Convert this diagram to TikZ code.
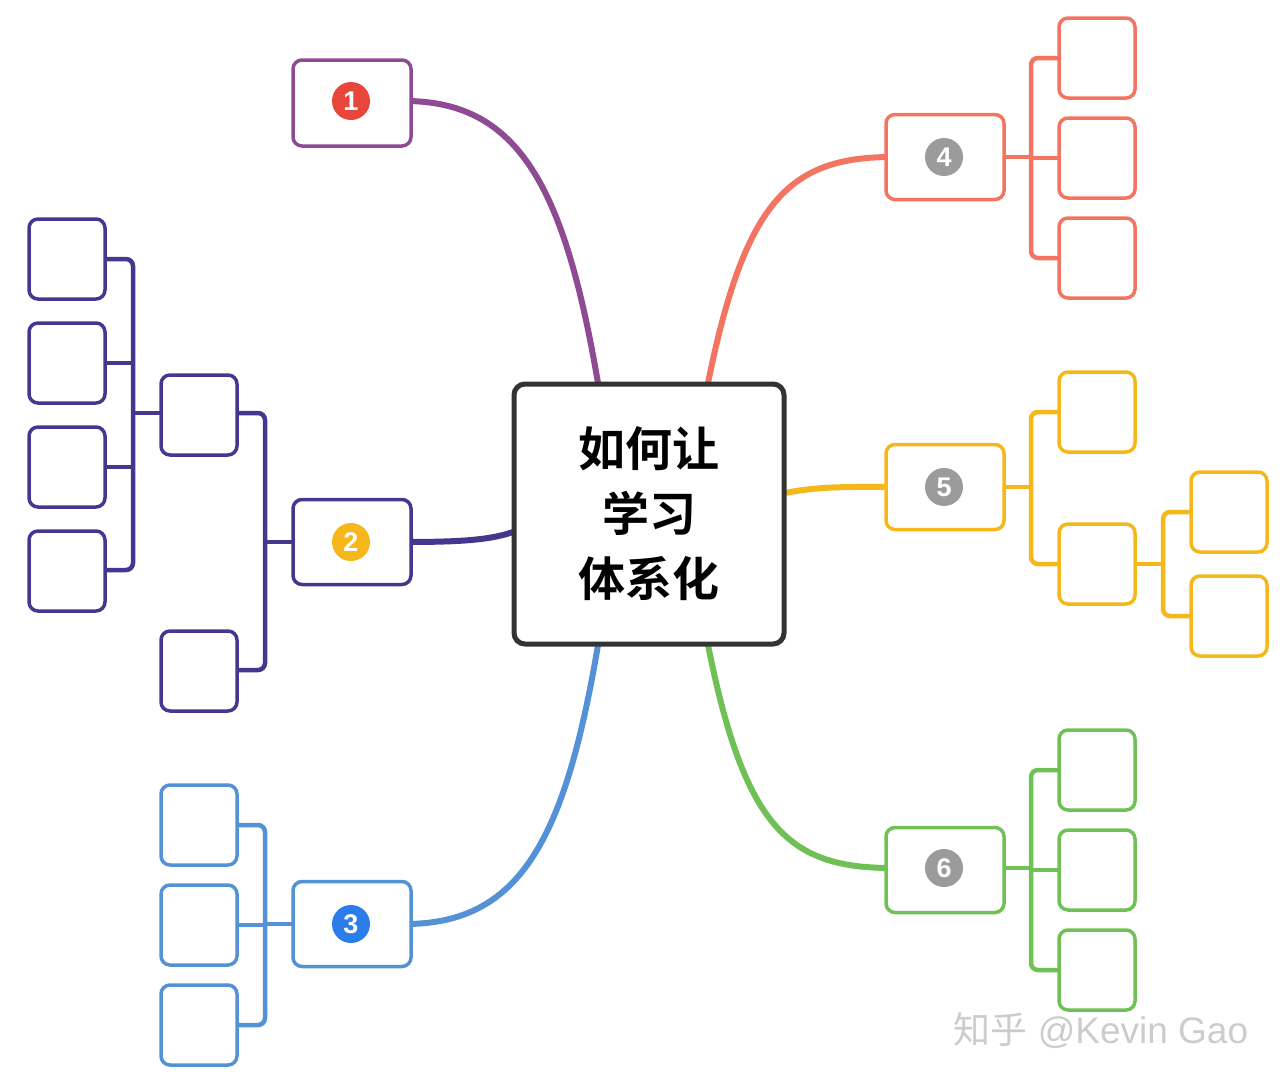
\documentclass[tikz,border=0pt]{standalone}
\usepackage{fontspec}
\setmainfont{Liberation Sans}
\newfontfamily\cjk{Noto Sans CJK SC}
\newfontfamily\cjkb{Noto Sans CJK SC Bold}
\definecolor{cP}{HTML}{8E4A92}
\definecolor{cD}{HTML}{46368F}
\definecolor{cB}{HTML}{5591D6}
\definecolor{cO}{HTML}{F47462}
\definecolor{cY}{HTML}{F5B71A}
\definecolor{cG}{HTML}{70C155}
\definecolor{cC}{HTML}{333333}
\definecolor{k1c}{HTML}{E8463A}
\definecolor{k3c}{HTML}{2B7DE9}
\definecolor{kg}{HTML}{9B9B9B}
\begin{document}
\begin{tikzpicture}[x=1pt,y=-1pt,
 box/.style={draw,rounded corners=9pt,line width=3.5pt,minimum width=76pt,minimum height=80pt,inner sep=0pt,fill=white},
 num/.style={circle,fill=#1,text=white,inner sep=0pt,minimum size=38pt,font=\bfseries\fontsize{27}{27}\selectfont},
 ln/.style={line width=6pt,#1},
 br/.style={line width=4.5pt,rounded corners=7pt,#1}]
\useasboundingbox (0,0) rectangle (1287,1082);
\coordinate (c1) at (598,383); \coordinate (c2) at (513,532);
\coordinate (c3) at (598,645); \coordinate (c4) at (708,383);
\coordinate (c5) at (785,493); \coordinate (c6) at (708,645);
\draw[ln=cP] (c1) .. controls (565,190) and (520,101) .. (405,101);
\draw[ln=cD] (c2) .. controls (490,540) and (460,542) .. (405,542);
\draw[ln=cB] (c3) .. controls (565,840) and (520,924) .. (405,924);
\draw[ln=cO] (c4) .. controls (745,200) and (790,157) .. (892,157);
\draw[ln=cY] (c5) .. controls (820,486) and (850,487) .. (892,487);
\draw[ln=cG] (c6) .. controls (745,830) and (790,868) .. (892,868);
\draw[br=cD] (411,542) -- (265,542); \draw[br=cD] (238,413) -- (265,413) -- (265,670) -- (238,670);
\draw[br=cD] (160,413) -- (133,413);
\draw[br=cD] (106,259) -- (133,259) -- (133,570) -- (106,570);
\draw[br=cD] (106,363) -- (133,363); \draw[br=cD] (106,467) -- (133,467);
\draw[br=cB] (293,924) -- (265,924); \draw[br=cB] (238,825) -- (265,825) -- (265,1025) -- (238,1025);
\draw[br=cB] (238,925) -- (265,925);
\draw[br=cO] (1004,157) -- (1031,157); \draw[br=cO] (1058,58) -- (1031,58) -- (1031,258) -- (1058,258);
\draw[br=cO] (1031,158) -- (1058,158);
\draw[br=cY] (1004,487) -- (1031,487); \draw[br=cY] (1058,412) -- (1031,412) -- (1031,564) -- (1058,564);
\draw[br=cY] (1136,564) -- (1163,564); \draw[br=cY] (1190,512) -- (1163,512) -- (1163,616) -- (1190,616);
\draw[br=cG] (1004,868) -- (1031,868); \draw[br=cG] (1058,770) -- (1031,770) -- (1031,970) -- (1058,970);
\draw[br=cG] (1031,870) -- (1058,870);
\node[draw=cC,rounded corners=11pt,line width=5pt,fill=white,minimum width=270pt,minimum height=260pt,align=center,
 font=\cjkb\fontsize{47}{65}\selectfont] (m) at (649,514) {如何让\\学习\\体系化};
\node[box,draw=cP,minimum width=118pt,minimum height=86pt] (n1) at (352,103) {};
\node[num=k1c] (k1) at (351,101) {1};
\node[box,draw=cD,minimum width=118pt,minimum height=85pt] (n2) at (352,542) {};
\node[num=cY] (k2) at (351,542) {2};
\node[box,draw=cB,minimum width=118pt,minimum height=85pt] (n3) at (352,924) {};
\node[num=k3c] (k3) at (351,924) {3};
\node[box,draw=cO,minimum width=118pt,minimum height=85pt] (n4) at (945,157) {};
\node[num=kg] (k4) at (944,157) {4};
\node[box,draw=cY,minimum width=118pt,minimum height=85pt] (n5) at (945,487) {};
\node[num=kg] (k5) at (944,487) {5};
\node[box,draw=cG,minimum width=118pt,minimum height=85pt] (n6) at (945,870) {};
\node[num=kg] (k6) at (944,868) {6};
\node[box,draw=cD] (a1) at (199,415) {};
\node[box,draw=cD] (a2) at (199,671) {};
\node[box,draw=cD] (b1) at (67,259) {};
\node[box,draw=cD] (b2) at (67,363) {};
\node[box,draw=cD] (b3) at (67,467) {};
\node[box,draw=cD] (b4) at (67,571) {};
\node[box,draw=cB] (d1) at (199,825) {};
\node[box,draw=cB] (d2) at (199,925) {};
\node[box,draw=cB] (d3) at (199,1025) {};
\node[box,draw=cO] (e1) at (1097,58) {};
\node[box,draw=cO] (e2) at (1097,158) {};
\node[box,draw=cO] (e3) at (1097,258) {};
\node[box,draw=cY] (f1) at (1097,412) {};
\node[box,draw=cY] (f2) at (1097,564) {};
\node[box,draw=cY] (g1) at (1229,512) {};
\node[box,draw=cY] (g2) at (1229,616) {};
\node[box,draw=cG] (h1) at (1097,770) {};
\node[box,draw=cG] (h2) at (1097,870) {};
\node[box,draw=cG] (h3) at (1097,970) {};
\node[text=gray!40,font=\fontsize{37}{37}\selectfont,anchor=west] (w) at (950,1030) {{\cjk 知乎} @Kevin Gao};
\end{tikzpicture}
\end{document}
